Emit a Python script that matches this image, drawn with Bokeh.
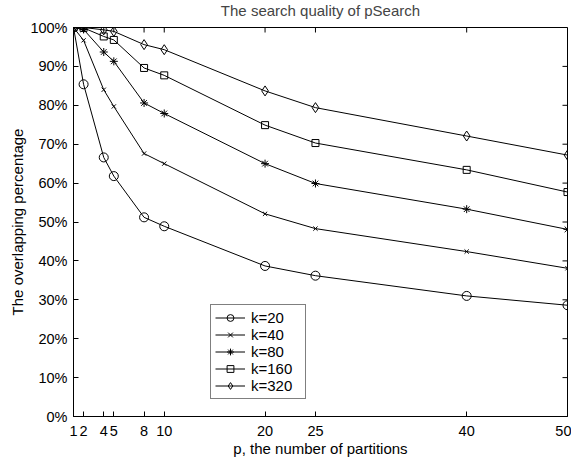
from bokeh.plotting import figure
from bokeh.models import FixedTicker, PrintfTickFormatter, Range1d, Legend, LegendItem
from bokeh.embed import file_html
from bokeh.resources import INLINE

# ---- data ----
partitions = [1, 2, 4, 5, 8, 10, 20, 25, 40, 50]
k20 = [100, 85.4, 66.6, 61.8, 51.2, 48.9, 38.7, 36.2, 31.0, 28.6]
k40 = [100, 96.7, 84.0, 79.7, 67.6, 65.0, 52.1, 48.3, 42.4, 38.1]
k80 = [100, 99.5, 93.7, 91.3, 80.6, 77.9, 65.0, 59.9, 53.3, 48.1]
k160 = [100, 99.9, 97.7, 96.8, 89.6, 87.7, 74.9, 70.3, 63.4, 57.7]
k320 = [100, 100, 99.4, 99.0, 95.6, 94.3, 83.7, 79.4, 72.1, 67.2]
series_labels = ["k=20", "k=40", "k=80", "k=160", "k=320"]
y_ticks = [0, 10, 20, 30, 40, 50, 60, 70, 80, 90, 100]

FONT = "Liberation Sans"
X_MIN, X_MAX, Y_MIN, Y_MAX = 1, 50, 0, 100

p = figure(frame_width=494, frame_height=389, output_backend="svg",
           toolbar_location=None, x_range=Range1d(X_MIN, X_MAX),
           y_range=Range1d(Y_MIN, Y_MAX),
           min_border_left=73, min_border_right=4, min_border_top=35,
           min_border_bottom=5)
p.styles = {"margin-top": "-9px"}
p.background_fill_color = "white"
p.border_fill_color = "white"
p.outline_line_color = "black"
p.outline_line_width = 1
p.xgrid.visible = False
p.ygrid.visible = False

p.title.text = "The search quality of pSearch"
p.title.text_font = FONT
p.title.text_font_size = "15px"
p.title.text_font_style = "normal"
p.title.align = "center"
p.title.offset = 0
p.title.standoff = 17

def style_axis(ax):
    ax.axis_line_color = "black"
    ax.axis_line_width = 1
    ax.major_tick_in = 5
    ax.major_tick_out = 0
    ax.minor_tick_line_color = None
    ax.major_tick_line_color = "black"
    ax.major_label_text_font = FONT
    ax.major_label_text_font_size = "14.5px"
    ax.major_label_text_color = "black"
    ax.axis_label_text_font = FONT
    ax.axis_label_text_font_size = "15px"
    ax.axis_label_text_font_style = "normal"
    ax.axis_label_text_color = "black"

xa = p.xaxis[0]
xa.ticker = FixedTicker(ticks=partitions)
xa.axis_label = "p, the number of partitions"
xa.major_label_standoff = 9
xa.axis_label_standoff = 1
style_axis(xa)

ya = p.yaxis[0]
ya.ticker = FixedTicker(ticks=y_ticks)
ya.formatter = PrintfTickFormatter(format="%d%%")
ya.axis_label = "The overlapping percentage"
ya.major_label_standoff = 6
ya.axis_label_standoff = 1
style_axis(ya)

# inward ticks on the top and right edges of the box
p.ray(x=partitions, y=[Y_MAX] * len(partitions), length=5, length_units="screen",
      angle=-90, angle_units="deg", line_color="black", line_width=1)
p.ray(x=[X_MAX] * len(y_ticks), y=y_ticks, length=5, length_units="screen",
      angle=180, angle_units="deg", line_color="black", line_width=1)

series = [k20, k40, k80, k160, k320]
markers = ["circle", "x", "asterisk", "square", "diamond"]
sizes = [9, 6, 8, 7, 10]
items = []
for vals, mk, sz, lab in zip(series, markers, sizes, series_labels):
    ln = p.line(partitions, vals, line_color="black", line_width=1)
    sc = p.scatter(partitions, vals, marker=mk, size=sz, line_color="black",
                   fill_color=None, line_width=1)
    items.append(LegendItem(label=lab, renderers=[ln, sc]))

legend = Legend(items=items, location=(137, 17))
legend.label_text_font = FONT
legend.label_text_font_size = "15px"
legend.label_text_color = "black"
legend.border_line_color = "black"
legend.border_line_width = 1
legend.background_fill_alpha = 1
legend.padding = 4
legend.spacing = 0
legend.margin = 0
legend.glyph_width = 30
legend.glyph_height = 17
legend.label_height = 17
legend.label_width = 50
legend.label_standoff = 6
p.add_layout(legend, "center")

open("out.html", "w").write(file_html(p, INLINE))
